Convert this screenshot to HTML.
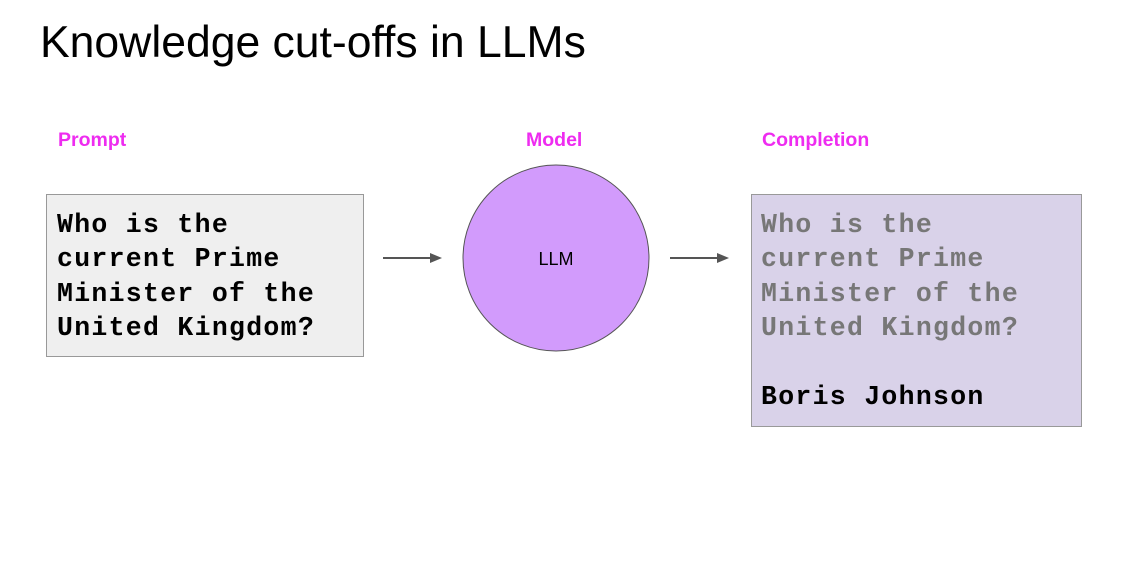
<!DOCTYPE html>
<html><head><style>
body{margin:0;width:1127px;height:564px;background:#fff;position:relative;overflow:hidden;font-family:"Liberation Sans",sans-serif}
.t{position:absolute;left:40px;top:18px;font-size:44.5px;color:#000;white-space:nowrap}
.l{position:absolute;top:129px;font-size:19.5px;font-weight:bold;color:#ee2cf0}
.box{position:absolute;box-sizing:border-box;border:1px solid #999}
.m{position:absolute;font-family:"Liberation Mono",monospace;font-weight:bold;font-size:26.5px;letter-spacing:1.3px;line-height:34.4px;white-space:pre}
</style></head><body>
<div class="t">Knowledge cut-offs in LLMs</div>
<div class="l" style="left:58px">Prompt</div>
<div class="l" style="left:526px">Model</div>
<div class="l" style="left:762px">Completion</div>
<div class="box" style="left:46px;top:194px;width:318px;height:163px;background:#efefef"></div>
<div class="m" style="left:57px;top:208px;color:#000">Who is the
current Prime
Minister of the
United Kingdom?</div>
<div class="box" style="left:751px;top:194px;width:331px;height:233px;background:#d9d2e9"></div>
<div class="m" style="left:761px;top:208px;color:#777">Who is the
current Prime
Minister of the
United Kingdom?</div>
<div class="m" style="left:761px;top:380px;color:#000">Boris Johnson</div>
<svg style="position:absolute;left:0;top:0" width="1127" height="564">
<circle cx="556" cy="258" r="93" fill="#d29bfc" stroke="#555" stroke-width="1"/>
<text x="556" y="265" text-anchor="middle" font-family="Liberation Sans" font-size="18">LLM</text>
<line x1="383" y1="258" x2="432" y2="258" stroke="#555" stroke-width="2"/>
<polygon points="430,253 442,258 430,263" fill="#555"/>
<line x1="670" y1="258" x2="719" y2="258" stroke="#555" stroke-width="2"/>
<polygon points="717,253 729,258 717,263" fill="#555"/>
</svg>
</body></html>
